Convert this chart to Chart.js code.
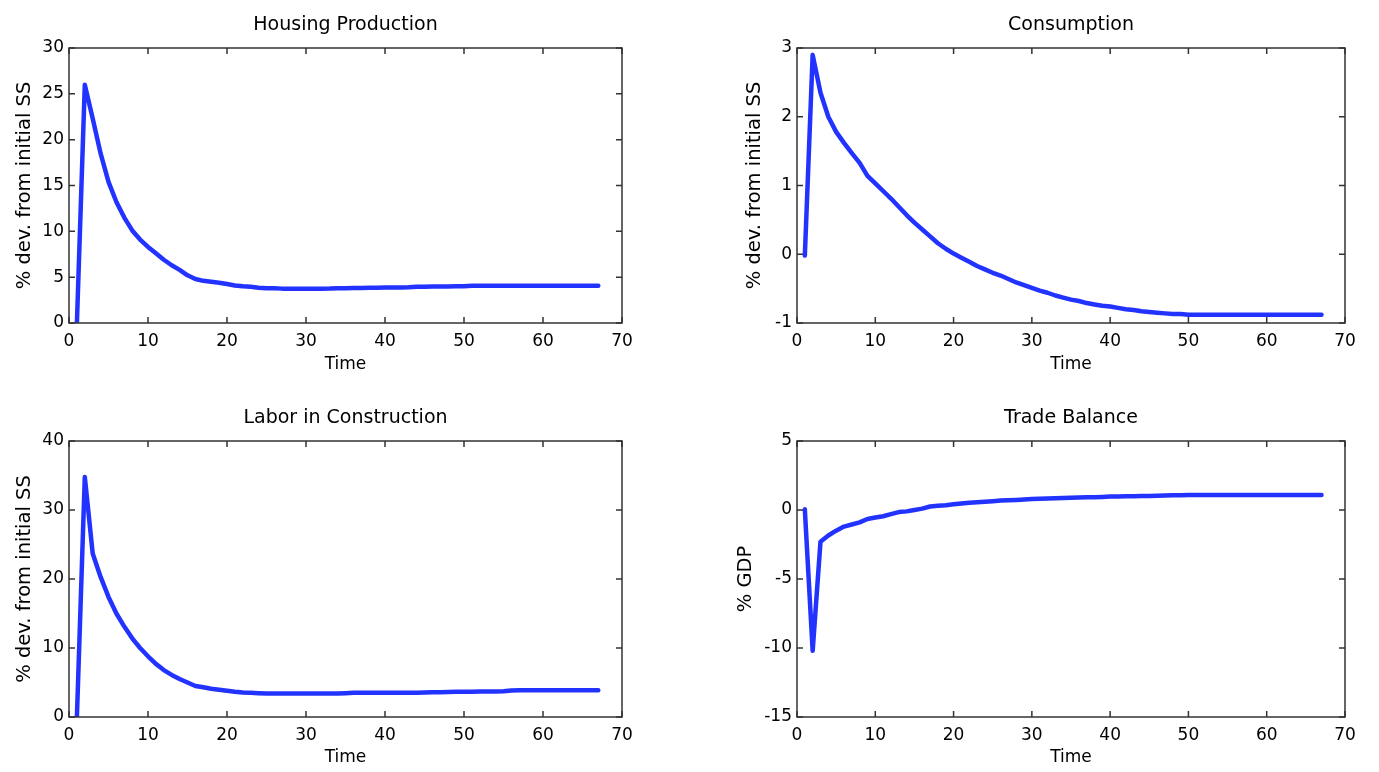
<!DOCTYPE html>
<html>
<head>
<meta charset="utf-8">
<script src="https://cdn.jsdelivr.net/npm/chart.js@4.4.1/dist/chart.umd.min.js"></script>
<style>
  html, body { margin:0; padding:0; background:#fff; overflow:hidden; width:1379px; height:772px; }
  canvas { position:absolute; }
</style>
</head>
<body>
<canvas id="c1" width="691" height="386" style="left:0px;top:0px;"></canvas>
<canvas id="c2" width="686" height="386" style="left:728px;top:0px;"></canvas>
<canvas id="c3" width="691" height="386" style="left:0px;top:386px;"></canvas>
<canvas id="c4" width="686" height="386" style="left:728px;top:386px;"></canvas>
<script>
// ---- data ----
const time = [1,2,3,4,5,6,7,8,9,10,11,12,13,14,15,16,17,18,19,20,21,22,23,24,25,26,27,28,29,30,31,32,33,34,35,36,37,38,39,40,41,42,43,44,45,46,47,48,49,50,51,52,53,54,55,56,57,58,59,60,61,62,63,64,65,66,67];

const housingProduction = [0,26.0,22.3,18.5,15.4,13.2,11.5,10.1,9.1,8.3,7.6,6.9,6.3,5.8,5.2,4.8,4.6,4.5,4.4,4.25,4.1,4.0,3.95,3.85,3.8,3.78,3.75,3.75,3.75,3.75,3.75,3.75,3.76,3.8,3.8,3.82,3.83,3.84,3.85,3.86,3.87,3.88,3.9,3.95,3.96,3.97,3.98,3.99,4.0,4.02,4.06,4.07,4.07,4.07,4.07,4.07,4.07,4.07,4.07,4.07,4.07,4.07,4.07,4.07,4.07,4.07,4.07];

const consumption = [-0.02,2.9,2.35,2.0,1.78,1.62,1.47,1.33,1.14,1.03,0.92,0.81,0.69,0.57,0.46,0.36,0.26,0.16,0.08,0.01,-0.05,-0.11,-0.17,-0.22,-0.27,-0.31,-0.36,-0.41,-0.45,-0.49,-0.53,-0.56,-0.6,-0.63,-0.66,-0.68,-0.71,-0.73,-0.75,-0.76,-0.78,-0.8,-0.81,-0.83,-0.84,-0.85,-0.86,-0.87,-0.87,-0.88,-0.88,-0.88,-0.88,-0.88,-0.88,-0.88,-0.88,-0.88,-0.88,-0.88,-0.88,-0.88,-0.88,-0.88,-0.88,-0.88,-0.88];

const laborConstruction = [0,34.8,23.7,20.3,17.4,15.0,13.1,11.4,10.0,8.8,7.7,6.8,6.1,5.5,5.0,4.5,4.3,4.1,3.95,3.8,3.65,3.55,3.5,3.45,3.4,3.4,3.4,3.4,3.4,3.4,3.4,3.4,3.4,3.42,3.45,3.5,3.5,3.5,3.5,3.5,3.5,3.5,3.5,3.52,3.55,3.6,3.6,3.62,3.65,3.65,3.67,3.68,3.7,3.7,3.72,3.85,3.87,3.88,3.88,3.88,3.88,3.88,3.88,3.88,3.88,3.88,3.88];

const tradeBalance = [0.05,-10.2,-2.3,-1.85,-1.5,-1.2,-1.05,-0.9,-0.65,-0.55,-0.45,-0.3,-0.15,-0.1,0.0,0.1,0.25,0.3,0.35,0.42,0.47,0.52,0.56,0.6,0.64,0.68,0.7,0.73,0.76,0.79,0.81,0.83,0.85,0.87,0.89,0.9,0.92,0.93,0.95,0.97,0.98,0.99,1.0,1.01,1.02,1.03,1.05,1.06,1.07,1.08,1.08,1.08,1.08,1.08,1.08,1.08,1.08,1.08,1.08,1.08,1.08,1.08,1.08,1.08,1.08,1.08,1.08];

const xTicks = {min:0, max:70, step:10};
const panels = [
  {id:'c1', title:'Housing Production', ylabel:'% dev. from initial SS', values:housingProduction, ymin:0, ymax:30, ystep:5, row:0, ytitlePad:13},
  {id:'c2', title:'Consumption', ylabel:'% dev. from initial SS', values:consumption, ymin:-1, ymax:3, ystep:1, row:0, ytitlePad:15},
  {id:'c3', title:'Labor in Construction', ylabel:'% dev. from initial SS', values:laborConstruction, ymin:0, ymax:40, ystep:10, row:1, ytitlePad:13},
  {id:'c4', title:'Trade Balance', ylabel:'% GDP', values:tradeBalance, ymin:-15, ymax:5, ystep:5, row:1, ytitlePad:6}
];

const LINE = '#2233ff';
const AXIS = '#333333';
const SANS = '"DejaVu Sans", "Liberation Sans", sans-serif';
const TICKFONT = {family:SANS, size:17};

const boxPlugin = {
  id:'matlabBox',
  afterDraw(chart){
    const {ctx, chartArea:{left,right,top,bottom}, scales:{x,y}} = chart;
    ctx.save();
    ctx.strokeStyle = AXIS; ctx.lineWidth = 1.5;
    ctx.strokeRect(left, top, right-left, bottom-top);
    const L = 6;
    ctx.beginPath();
    x.ticks.forEach(t => {
      const px = x.getPixelForValue(t.value);
      ctx.moveTo(px, bottom); ctx.lineTo(px, bottom-L);
      ctx.moveTo(px, top); ctx.lineTo(px, top+L);
    });
    y.ticks.forEach(t => {
      const py = y.getPixelForValue(t.value);
      ctx.moveTo(left, py); ctx.lineTo(left+L, py);
      ctx.moveTo(right, py); ctx.lineTo(right-L, py);
    });
    ctx.stroke();
    ctx.restore();
  }
};

panels.forEach(p => {
  const top = p.row === 0;
  new Chart(document.getElementById(p.id), {
    type:'line',
    data:{
      datasets:[{
        data: time.map((t,i)=>({x:t, y:p.values[i]})),
        borderColor: LINE, borderWidth: 4.5, pointRadius: 0, tension: 0,
        borderJoinStyle:'round', borderCapStyle:'round', fill:false
      }]
    },
    options:{
      responsive:false, animation:false, devicePixelRatio:1,
      layout:{padding:{left:0, right:69, top:0, bottom:0}},
      plugins:{
        legend:{display:false}, tooltip:{enabled:false},
        title:{display:true, fullSize:false, text:p.title, color:'#000',
          font:{family:SANS, size:19, weight:'normal', lineHeight:1.2},
          padding: top ? {top:14, bottom:11.2} : {top:21, bottom:11.2}}
      },
      scales:{
        x:{type:'linear', min:xTicks.min, max:xTicks.max,
          ticks:{stepSize:xTicks.step, color:'#000', font:TICKFONT, padding:8, maxRotation:0},
          grid:{display:false, drawTicks:false},
          border:{display:false},
          title:{display:true, text:'Time', color:'#000', font:{family:SANS, size:17, lineHeight:1.2},
            padding: top ? {top:0, bottom:11.5} : {top:0, bottom:4.5}},
          afterFit: s => { s.height = top ? 63 : 55; }
        },
        y:{type:'linear', min:p.ymin, max:p.ymax,
          ticks:{stepSize:p.ystep, color:'#000', font:TICKFONT, padding:5},
          grid:{display:false, drawTicks:false},
          border:{display:false},
          title:{display:true, text:p.ylabel, color:'#000', font:{family:SANS, size:19.5, lineHeight:1.2},
            padding:{top:p.ytitlePad, bottom:0}},
          afterFit: s => { s.width = 69; }
        }
      }
    },
    plugins:[boxPlugin]
  });
});
</script>
</body>
</html>
